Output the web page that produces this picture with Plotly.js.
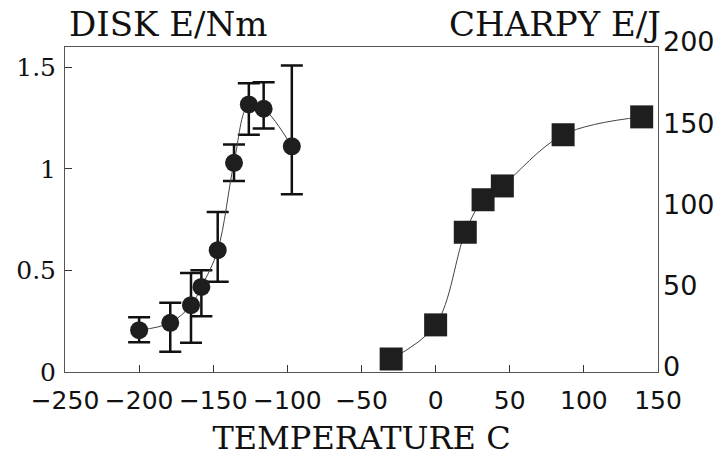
<!DOCTYPE html>
<html>
<head>
<meta charset="utf-8">
<script src="https://cdn.plot.ly/plotly-3.0.1.min.js"></script>
<style>
html,body{margin:0;padding:0;background:#fff;}
#chart{width:727px;height:457px;}
</style>
</head>
<body>
<div id="chart"></div>
<script>
// Disk (circles, left axis)
var diskTemp  = [-200, -179, -165, -158, -147, -136, -126, -116, -97];
var diskE     = [0.206, 0.242, 0.329, 0.419, 0.600, 1.030, 1.317, 1.296, 1.111];
var diskUpper = [0.269, 0.341, 0.488, 0.501, 0.788, 1.120, 1.422, 1.427, 1.509];
var diskLower = [0.146, 0.100, 0.144, 0.275, 0.444, 0.940, 1.168, 1.199, 0.875];

// Charpy (squares, right axis)
var charpyTemp = [-30, 0, 20, 32, 45, 86, 139];
var charpyE    = [8, 29, 86, 106, 114.5, 146, 157];

var xTicks = [-250, -200, -150, -100, -50, 0, 50, 100, 150];
var leftTicks = [0, 0.5, 1, 1.5];
var rightTicks = [0, 50, 100, 150, 200];

var errPlus = diskUpper.map(function(u, i){ return u - diskE[i]; });
var errMinus = diskLower.map(function(l, i){ return diskE[i] - l; });

var traces = [
  {
    x: diskTemp, y: diskE, type: 'scatter', mode: 'lines+markers',
    line: {shape: 'spline', smoothing: 1, color: '#444', width: 1},
    marker: {symbol: 'circle', size: 18, color: '#1e1e1e'},
    error_y: {type: 'data', symmetric: false, array: errPlus, arrayminus: errMinus,
              color: '#111', thickness: 2.5, width: 11},
    yaxis: 'y', showlegend: false, hoverinfo: 'x+y'
  },
  {
    x: charpyTemp, y: charpyE, type: 'scatter', mode: 'lines+markers',
    line: {shape: 'spline', smoothing: 1, color: '#444', width: 1},
    marker: {symbol: 'square', size: 23, color: '#1e1e1e'},
    yaxis: 'y2', showlegend: false, hoverinfo: 'x+y'
  }
];

var layout = {
  width: 727, height: 457,
  margin: {l: 65, r: 69, t: 47, b: 85},
  paper_bgcolor: '#fff', plot_bgcolor: '#fff',
  showlegend: false,
  xaxis: {
    range: [-250, 150], tickvals: xTicks, ticktext: xTicks.map(function(v){ return v < 0 ? '\u2212' + Math.abs(v) : String(v); }),
    ticks: 'inside', ticklen: 7, tickcolor: '#333', tickwidth: 1,
    showline: true, linecolor: '#555', linewidth: 1, mirror: true,
    showgrid: false, zeroline: false,
    tickfont: {family: 'DejaVu Sans', size: 25, color: '#111'},
    ticklabelstandoff: 6,
    title: {text: 'TEMPERATURE C', font: {family: 'DejaVu Serif', size: 32, color: '#111'}, standoff: 16}
  },
  yaxis: {
    range: [0, 1.6], tickvals: leftTicks, ticktext: ['0', '0.5', '1', '1.5'],
    ticks: 'inside', ticklen: 7, tickcolor: '#333', tickwidth: 1,
    showline: true, linecolor: '#555', linewidth: 1, mirror: true,
    showgrid: false, zeroline: false,
    tickfont: {family: 'DejaVu Serif', size: 25, color: '#111'},
    ticklabelstandoff: 3
  },
  yaxis2: {
    range: [0, 200], tickvals: rightTicks, overlaying: 'y', side: 'right',
    ticks: '', showline: false, showgrid: false, zeroline: false,
    tickfont: {family: 'DejaVu Sans', size: 27, color: '#111'},
    ticklabelstandoff: 4, ticklabelshift: -5
  },
  annotations: [
    {text: 'DISK E/Nm', xref: 'paper', yref: 'paper', x: 0.003, y: 1.07, xanchor: 'left', yanchor: 'middle',
     showarrow: false, font: {family: 'DejaVu Serif', size: 34, color: '#111'}},
    {text: 'CHARPY E/J', xref: 'paper', yref: 'paper', x: 1.008, y: 1.07, xanchor: 'right', yanchor: 'middle',
     showarrow: false, font: {family: 'DejaVu Serif', size: 34, color: '#111'}}
  ]
};

Plotly.newPlot('chart', traces, layout, {displayModeBar: false, staticPlot: true});
</script>
</body>
</html>
